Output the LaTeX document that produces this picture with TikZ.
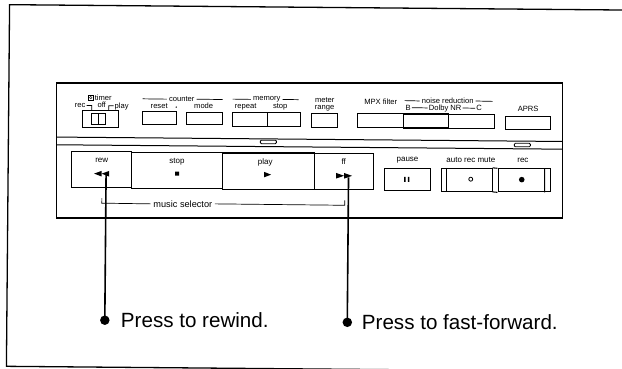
\documentclass[tikz,border=0pt]{standalone}
\usepackage{fontspec}
\setmainfont{Liberation Sans}
\begin{document}
\begin{tikzpicture}[x=1pt,y=-1pt,
  lbl/.style={font=\fontsize{7.6}{8}\selectfont, inner sep=0pt},
  tlbl/.style={font=\fontsize{8}{9}\selectfont, inner sep=1pt},
  btn/.style={draw, line width=1.05pt, inner sep=0pt},
  big/.style={font=\fontsize{20.6}{24}\selectfont, inner sep=0pt, anchor=base west},
  dotm/.style={circle, fill, inner sep=0pt, minimum size=9.5pt},
  lead/.style={line width=1.6pt},
  thinl/.style={line width=0.7pt},
  ind/.style={draw, rounded corners=1pt, minimum width=16pt, minimum height=3.5pt, inner sep=0pt, line width=0.8pt}]
\useasboundingbox (0,0) rectangle (622,369);
\begin{scope}[rotate around={-0.5:(311,185)}]
% outer frame
\coordinate (f1) at (660,7.3);
\coordinate (f2) at (8,7.3);
\coordinate (f3) at (8,369);
\coordinate (f4) at (660,369);
\draw[line width=1.3pt] (f1) -- (f2) -- (f3) -- (f4);
% panel
\node[draw, line width=1.2pt, minimum width=506pt, minimum height=135pt, inner sep=0pt] (panel) at (309,150.5) {};
\coordinate (l1a) at (56,139.3); \coordinate (l1b) at (562,139.3);
\coordinate (l2a) at (56,147); \coordinate (l2b) at (562,147);
\draw[line width=1pt] (l1a) -- (l1b);
\draw[line width=1pt] (l2a) -- (l2b);
\node[ind] (ind1) at (268,142.3) {};
\node[ind] (ind2) at (522,143.2) {};
% ---- top row ----
% timer switch
\node[btn, minimum width=36pt, minimum height=17pt] (timerbox) at (100,120.5) {};
\node[btn, line width=0.8pt, minimum width=7pt, minimum height=11pt] (swl) at (94.5,120.5) {};
\node[btn, line width=0.8pt, minimum width=7pt, minimum height=11pt] (swr) at (101.5,120.5) {};
\node[draw, line width=0.4pt, minimum size=4.6pt, inner sep=0pt] (clk) at (90,99.5) {};
\draw[line width=0.35pt] (clk.center) circle (1.3pt);
\node[lbl] (timer) at (102.5,99.5) {timer};
\node[lbl] (trec) at (79.5,107.5) {rec};
\node[lbl] (toff) at (101,106.5) {off};
\node[lbl] (tplay) at (121,108.3) {play};
\coordinate (sw1) at (91,112);
\coordinate (sw2) at (108,112);
\draw[thinl] ([xshift=1pt]trec.east) -| (sw1);
\draw[thinl] ([xshift=-1pt,yshift=0.8pt]tplay.west) -| (sw2);
% counter
\node[btn, minimum width=34pt, minimum height=12.5pt] (reset) at (159,119.3) {};
\node[btn, minimum width=35.5pt, minimum height=12.5pt] (mode) at (203.8,119.3) {};
\node[lbl] (counter) at (181,100.3) {counter};
\coordinate (c1) at (142,100.3); \coordinate (c2) at (222,100.3);
\draw[thinl] (c1) -- ([xshift=-2pt]counter.west);
\draw[thinl] ([xshift=2pt]counter.east) -- (c2);
\node[lbl] (lreset) at (158.5,107.2) {reset};
\fill (175.5,108.3) circle (0.7pt);
\node[lbl] (lmode) at (203,107.2) {mode};
% memory
\node[btn, minimum width=35pt, minimum height=14pt] (repeat) at (249.5,120) {};
\node[btn, minimum width=33pt, minimum height=14pt] (mstop) at (283.5,120) {};
\node[lbl] (memory) at (266,99.8) {memory};
\coordinate (m1) at (232,99.8); \coordinate (m2) at (298,99.8);
\draw[thinl] (m1) -- ([xshift=-2pt]memory.west);
\draw[thinl] ([xshift=2pt]memory.east) -- (m2);
\node[lbl] (lrepeat) at (245,107.3) {repeat};
\node[lbl] (lstop) at (279.5,107.3) {stop};
% meter range
\node[btn, minimum width=26pt, minimum height=14pt] (meter) at (324,120) {};
\node[lbl] (lmeter) at (324,99.5) {meter};
\node[lbl] (lrange) at (324,107.8) {range};
% MPX + NR
\node[btn, minimum width=46pt, minimum height=14pt] (mpx) at (380,120) {};
\node[btn, minimum width=45pt, minimum height=14pt] (nrb) at (425.5,120) {};
\node[btn, minimum width=46pt, minimum height=14pt] (nrc) at (471,120) {};
\node[lbl] (lmpx) at (380,101.3) {MPX filter};
\node[lbl] (lnr) at (447,99.8) {noise reduction};
\coordinate (n1) at (404,99.8); \coordinate (n2) at (492,99.8);
\draw[thinl] (n1) -- ([xshift=-2pt]lnr.west);
\draw[thinl] ([xshift=2pt]lnr.east) -- (n2);
\node[lbl] (lb) at (407.5,106.8) {B};
\node[lbl] (ldolby) at (444.5,107.5) {Dolby NR};
\node[lbl] (lc) at (478.5,106.8) {C};
\draw[thinl] ([xshift=1pt]lb.east) -- ([xshift=-1pt,yshift=0.7pt]ldolby.west);
\draw[thinl] ([xshift=1pt,yshift=0.7pt]ldolby.east) -- ([xshift=-1pt]lc.west);
% APRS
\node[btn, minimum width=45pt, minimum height=13.5pt] (aprs) at (527.5,121.3) {};
\node[lbl] (laprs) at (527.5,106.5) {APRS};
% ---- bottom row ----
\node[btn, minimum width=60pt, minimum height=36.3pt] (rew) at (101,171.5) {};
\node[btn, minimum width=91pt, minimum height=36.3pt] (stop) at (176.5,171.5) {};
\node[btn, minimum width=92pt, minimum height=36.3pt] (play) at (268,171.5) {};
\node[btn, minimum width=59pt, minimum height=36.3pt] (ff) at (343.5,171.5) {};
\node[tlbl] (lrew) at (101.5,162.5) {rew};
\node[tlbl] (lstop2) at (176.7,162.5) {stop};
\node[tlbl] (lplay) at (265,162.5) {play};
\node[tlbl] (lff) at (343.5,161.5) {ff};
% symbols
\fill (94,175.5) -- (101.5,172.7) -- (101.5,178.3) -- cycle;
\fill (101.5,175.5) -- (109,172.7) -- (109,178.3) -- cycle;
\fill (175,172.7) rectangle (179,176.7);
\fill (264,172.3) -- (271,175) -- (264,177.7) -- cycle;
\fill (336,172.7) -- (344,175.5) -- (336,178.3) -- cycle;
\fill (344,172.7) -- (352,175.5) -- (344,178.3) -- cycle;
% pause, auto rec mute, rec
\node[btn, minimum width=46pt, minimum height=22pt] (pause) at (407,179) {};
\node[btn, minimum width=51pt, minimum height=23pt] (arm) at (466.5,178.5) {};
\node[btn, minimum width=52pt, minimum height=23pt] (recb) at (524,178.5) {};
\draw[line width=1.05pt] (arm.north east) -- (recb.north west);
\draw[line width=1.05pt] (arm.south east) -- (recb.south west);
\draw[line width=1.05pt] ([xshift=6pt]arm.north west) -- ([xshift=6pt]arm.south west);
\draw[line width=1.05pt] ([xshift=-6pt]recb.north east) -- ([xshift=-6pt]recb.south east);
\node[tlbl] (lpause) at (407.3,159) {pause};
\node[tlbl] (larm) at (470.7,158.8) {auto rec mute};
\node[tlbl] (lrec) at (522.7,158.5) {rec};
\fill (404,176) rectangle (405.6,181);
\fill (407.8,176) rectangle (409.4,181);
\draw[line width=0.8pt] (470.7,177.8) circle (2pt);
\fill (521.7,177.8) circle (2.8pt);
% music selector
\node[font=\fontsize{9.2}{10}\selectfont, inner sep=2.5pt] (music) at (183,205) {music selector};
\coordinate (ms0) at (102,200); \coordinate (ms1) at (102,205);
\coordinate (ms2) at (345,205); \coordinate (ms3) at (345,200);
\draw[thinl] (ms0) -- (ms1) -- (music.west);
\draw[thinl] (music.east) -- (ms2) -- (ms3);
% leaders
\coordinate (r1) at (106,176);
\coordinate (r2) at (348.5,177);
\node[dotm] (d1) at (106,322) {};
\node[dotm] (d2) at (348.5,322) {};
\draw[lead] (r1) -- (d1.center);
\draw[lead] (r2) -- (d2.center);
\node[big] (t1) at (122,329) {Press to rewind.};
\node[big] (t2) at (363,329) {Press to fast-forward.};
\end{scope}
\end{tikzpicture}
\end{document}
